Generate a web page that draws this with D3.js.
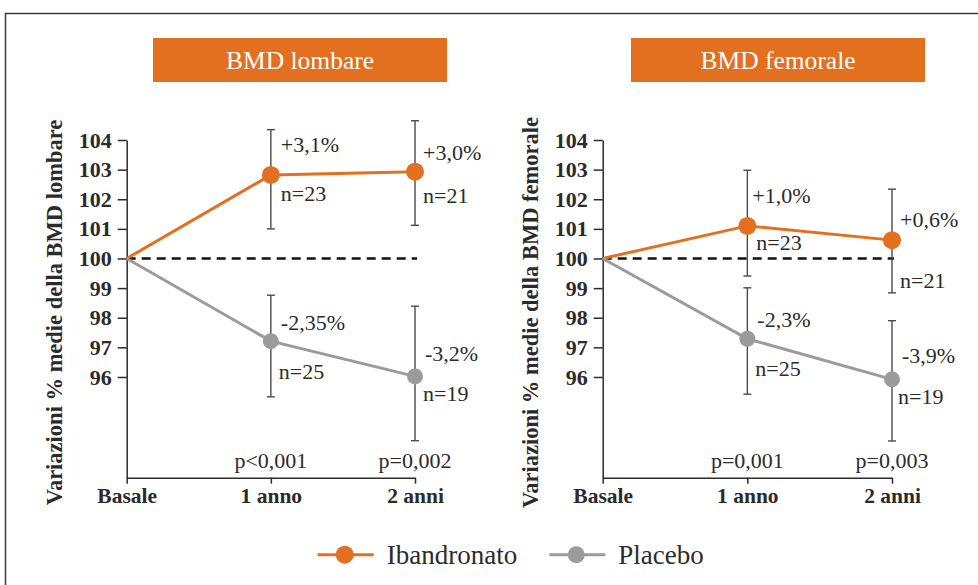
<!DOCTYPE html>
<html>
<head>
<meta charset="utf-8">
<script src="https://cdn.jsdelivr.net/npm/d3@7"></script>
<style>
  body { margin: 0; background: #fff; }
</style>
</head>
<body>
<div id="chart"></div>
<script>
// ---- data ----
const timepoints = ["Basale", "1 anno", "2 anni"];
const yTicks = [96, 97, 98, 99, 100, 101, 102, 103, 104];
const panelTitles = ["BMD lombare", "BMD femorale"];
const axisTitles = ["Variazioni % medie della BMD lombare", "Variazioni % medie della BMD femorale"];
const seriesNames = ["Ibandronato", "Placebo"];

// lombare
const ibanLombare = [100, 102.82, 102.93];
const ibanLombareLow = [null, 101.0, 101.12];
const ibanLombareHigh = [null, 104.35, 104.65];
const placLombare = [100, 97.21, 96.02];
const placLombareLow = [null, 95.33, 93.85];
const placLombareHigh = [null, 98.76, 98.39];
const ibanLombarePct = [null, "+3,1%", "+3,0%"];
const ibanLombareN = [null, "n=23", "n=21"];
const placLombarePct = [null, "-2,35%", "-3,2%"];
const placLombareN = [null, "n=25", "n=19"];
const pLombare = [null, "p<0,001", "p=0,002"];

// femorale
const ibanFemorale = [100, 101.10, 100.62];
const ibanFemoraleLow = [null, 99.41, 98.84];
const ibanFemoraleHigh = [null, 102.98, 102.34];
const placFemorale = [100, 97.29, 95.92];
const placFemoraleLow = [null, 95.42, 93.84];
const placFemoraleHigh = [null, 99.01, 97.90];
const ibanFemoralePct = [null, "+1,0%", "+0,6%"];
const ibanFemoraleN = [null, "n=23", "n=21"];
const placFemoralePct = [null, "-2,3%", "-3,9%"];
const placFemoraleN = [null, "n=25", "n=19"];
const pFemorale = [null, "p=0,001", "p=0,003"];

// ---- layout / style ----
const W = 978, H = 585;
const orange = "#E3701E", grey = "#9B9B9D", ink = "#2b2b2b";
const serif = "'Liberation Serif'";
const yDomain = [92.6, 104];
const plotTop = 140, plotBottom = 477.7;

const panels = [
  {
    x0: 126.7, x1: 415, boxX: 153, title: panelTitles[0], axisTitle: axisTitles[0], p: pLombare,
    series: [
      {v: ibanLombare, lo: ibanLombareLow, hi: ibanLombareHigh, pct: ibanLombarePct, n: ibanLombareN, color: orange, r: 9,
       pctOff: [null, [10, -23], [8, -12]], nOff: [null, [10, 26], [8, 31]]},
      {v: placLombare, lo: placLombareLow, hi: placLombareHigh, pct: placLombarePct, n: placLombareN, color: grey, r: 8,
       pctOff: [null, [10, -11], [10, -15]], nOff: [null, [8, 38], [8, 25]]}
    ]
  },
  {
    x0: 602.7, x1: 892, boxX: 631, title: panelTitles[1], axisTitle: axisTitles[1], p: pFemorale,
    series: [
      {v: ibanFemorale, lo: ibanFemoraleLow, hi: ibanFemoraleHigh, pct: ibanFemoralePct, n: ibanFemoraleN, color: orange, r: 9,
       pctOff: [null, [5, -23], [8, -13]], nOff: [null, [9, 24], [8, 48]]},
      {v: placFemorale, lo: placFemoraleLow, hi: placFemoraleHigh, pct: placFemoralePct, n: placFemoraleN, color: grey, r: 8,
       pctOff: [null, [10, -12], [10, -16]], nOff: [null, [8, 37], [6, 25]]}
    ]
  }
];

const svg = d3.select("#chart").append("svg")
  .attr("width", W).attr("height", H);

// outer frame
svg.append("rect")
  .attr("x", 5.5).attr("y", 13.5)
  .attr("width", 990).attr("height", 600)
  .attr("fill", "none").attr("stroke", "#3a3a3a").attr("stroke-width", 1.5);

const yScale = d3.scaleLinear().domain(yDomain).range([plotBottom, plotTop]);

panels.forEach(pn => {
  const g = svg.append("g");
  const xScale = d3.scalePoint().domain(timepoints).range([pn.x0, pn.x1]);

  // title box
  g.append("rect")
    .attr("x", pn.boxX).attr("y", 38).attr("width", 294).attr("height", 44)
    .attr("fill", orange);
  g.append("text")
    .attr("x", pn.boxX + 147).attr("y", 68.5)
    .attr("text-anchor", "middle").attr("fill", "#fff")
    .style("font-family", serif).style("font-size", "25.5px")
    .text(pn.title);

  // y axis
  const yAxisG = g.append("g")
    .attr("transform", "translate(" + pn.x0 + ",0)")
    .call(d3.axisLeft(yScale).tickValues(yTicks).tickSize(9).tickSizeOuter(0).tickPadding(6).tickFormat(d3.format("d")));
  yAxisG.select(".domain").attr("stroke", ink).attr("stroke-width", 1.5);
  yAxisG.selectAll(".tick line").attr("stroke", ink).attr("stroke-width", 1.5);
  yAxisG.selectAll(".tick text")
    .attr("fill", ink).style("font-size", "22px").style("font-weight", "bold")
    .style("font-family", serif);

  // x axis
  const xAxisG = g.append("g")
    .attr("transform", "translate(0," + plotBottom + ")")
    .call(d3.axisBottom(xScale).tickSize(6).tickSizeOuter(0));
  xAxisG.select(".domain").attr("stroke", ink).attr("stroke-width", 1.5);
  xAxisG.selectAll(".tick line").attr("stroke", ink).attr("stroke-width", 1.5);
  xAxisG.selectAll(".tick text")
    .attr("y", 25.5).attr("dy", 0)
    .attr("fill", ink).style("font-size", "21.5px").style("font-weight", "bold")
    .style("font-family", serif);

  // y axis title
  g.append("text")
    .attr("transform", "translate(" + (pn.x0 - 65) + "," + ((plotTop + 505) / 2 - 10) + ") rotate(-90)")
    .attr("text-anchor", "middle")
    .attr("fill", ink)
    .style("font-family", serif)
    .style("font-size", "22.5px").style("font-weight", "bold")
    .text(pn.axisTitle);

  // baseline dashed line at 100
  g.append("line")
    .attr("x1", xScale(timepoints[0])).attr("x2", xScale(timepoints[2]) + 2)
    .attr("y1", yScale(100)).attr("y2", yScale(100))
    .attr("stroke", "#111").attr("stroke-width", 2.5).attr("stroke-dasharray", "9,6");

  // error bars
  pn.series.forEach(s => {
    timepoints.forEach((t, i) => {
      if (s.lo[i] == null) return;
      const x = xScale(t);
      const eg = g.append("g").attr("stroke", "#4a4a4a").attr("stroke-width", 1.4);
      eg.append("line").attr("x1", x).attr("x2", x).attr("y1", yScale(s.lo[i])).attr("y2", yScale(s.hi[i]));
      eg.append("line").attr("x1", x - 4).attr("x2", x + 4).attr("y1", yScale(s.lo[i])).attr("y2", yScale(s.lo[i]));
      eg.append("line").attr("x1", x - 4).attr("x2", x + 4).attr("y1", yScale(s.hi[i])).attr("y2", yScale(s.hi[i]));
    });
  });

  // lines and markers
  const line = d3.line().x((d, i) => xScale(timepoints[i])).y(d => yScale(d));
  pn.series.forEach(s => {
    g.append("path").datum(s.v)
      .attr("d", line).attr("fill", "none")
      .attr("stroke", s.color).attr("stroke-width", 3);
    g.selectAll(null).data(s.v.slice(1)).join("circle")
      .attr("cx", (d, i) => xScale(timepoints[i + 1]))
      .attr("cy", d => yScale(d))
      .attr("r", s.r).attr("fill", s.color);
  });

  // value labels
  pn.series.forEach(s => {
    timepoints.forEach((t, i) => {
      if (s.pct[i] == null) return;
      const x = xScale(t), y = yScale(s.v[i]);
      g.append("text").attr("x", x + s.pctOff[i][0]).attr("y", y + s.pctOff[i][1])
        .attr("fill", ink).style("font-family", serif).style("font-size", "22px").text(s.pct[i]);
      g.append("text").attr("x", x + s.nOff[i][0]).attr("y", y + s.nOff[i][1])
        .attr("fill", ink).style("font-family", serif).style("font-size", "22px").text(s.n[i]);
    });
  });

  // p-values
  timepoints.forEach((t, i) => {
    if (pn.p[i] == null) return;
    g.append("text").attr("x", xScale(t)).attr("y", 468)
      .attr("text-anchor", "middle").attr("fill", ink)
      .style("font-family", serif).style("font-size", "22px").text(pn.p[i]);
  });
});

// legend
const legend = svg.append("g").attr("transform", "translate(0,554.7)");
const legendItems = [
  {name: seriesNames[0], color: orange, x: 317.7, r: 9},
  {name: seriesNames[1], color: grey, x: 549.3, r: 8.5}
];
legendItems.forEach(it => {
  legend.append("line").attr("x1", it.x).attr("x2", it.x + 56).attr("y1", 0).attr("y2", 0)
    .attr("stroke", it.color).attr("stroke-width", 3);
  legend.append("circle").attr("cx", it.x + 27).attr("cy", 0).attr("r", it.r).attr("fill", it.color);
  legend.append("text").attr("x", it.x + 69).attr("y", 9)
    .attr("fill", ink).style("font-family", serif).style("font-size", "27px").text(it.name);
});
</script>
</body>
</html>
